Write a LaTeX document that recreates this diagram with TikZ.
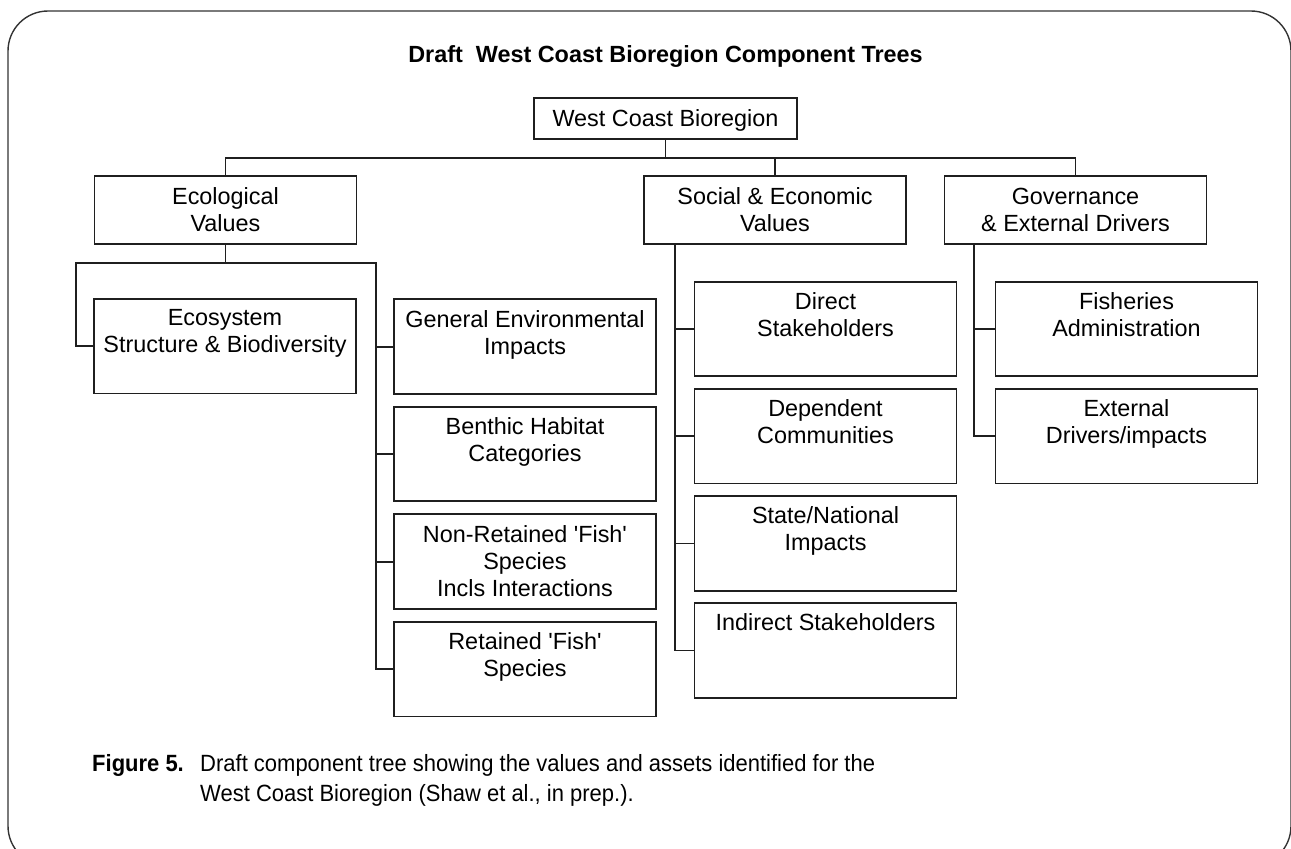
\documentclass[tikz,border=0pt]{standalone}
\usepackage{fontspec}
\setmainfont{Liberation Sans}
\newfontfamily\capfont[FakeStretch=0.936]{Liberation Sans}
\newcommand\bodyfont{\fontsize{23.4}{27}\selectfont}
\newcommand\capsize{\capfont\fontsize{23.5}{30}\selectfont}
\newcommand\sq{\textquotesingle}

\tikzset{
  conn/.style={line width=1.9pt, draw=black!88},
  box/.style={draw=black!88, line width=1.9pt, inner sep=0pt, minimum width=262pt},
  head/.style={box, minimum height=68pt, align=center, font=\bodyfont},
  leaf/.style={box, minimum height=94.5pt},
  lbl/.style={anchor=north, align=center, inner sep=0pt, font=\bodyfont},
  captext/.style={anchor=base west, inner sep=0pt, font=\capsize},
}

\begin{document}
\begin{tikzpicture}[x=1pt,y=-1pt]
\useasboundingbox (0,0) rectangle (1291,849);
\clip (0,0) rectangle (1291,849);

% outer frame
\draw[line width=1.4pt, black!80, rounded corners=40pt] (8,11) rectangle (1291,866);

% title
\node[anchor=base, inner sep=0pt, font=\bodyfont\bfseries] (title) at (665.5,62)
  {Draft\ \ West Coast Bioregion Component Trees};

% root and first level
\node[box, minimum width=263pt, minimum height=41pt, text depth=0pt, font=\bodyfont] (root) at (665.5,118.5) {West Coast Bioregion};
\node[head] (eco) at (225.5,210) {Ecological\\Values};
\node[head] (soc) at (775,210) {Social \& Economic\\Values};
\node[head] (gov) at (1075.5,210) {Governance\\\& External Drivers};

% ecological values branch
\node[leaf] (ecosys) at (225,346.2) {};
\node[leaf] (gen)    at (525,346.6) {};
\node[leaf] (ben)    at (525,454.0) {};
\node[leaf] (nonret) at (525,561.6) {};
\node[leaf] (ret)    at (525,669.2) {};

% social and economic branch
\node[leaf] (direct) at (825.5,329.0) {};
\node[leaf] (depend) at (825.5,436.2) {};
\node[leaf] (state)  at (825.5,543.5) {};
\node[leaf] (indir)  at (825.5,650.5) {};

% governance branch
\node[leaf] (fishad) at (1126.5,329.0) {};
\node[leaf] (extdr)  at (1126.5,436.2) {};

% leaf labels
\node[lbl] (ecosysT) at ([yshift=-11.5pt]ecosys.north) {Ecosystem\\Structure \& Biodiversity};
\node[lbl] (genT)    at ([yshift=-11.5pt]gen.north) {General Environmental\\Impacts};
\node[lbl] (benT)    at ([yshift=-11.5pt]ben.north) {Benthic Habitat\\Categories};
\node[lbl] (nonretT) at ([yshift=-11.5pt]nonret.north) {Non-Retained \sq Fish\sq\\Species\\Incls Interactions};
\node[lbl] (retT)    at ([yshift=-11.5pt]ret.north) {Retained \sq Fish\sq\\Species};
\node[lbl] (directT) at ([yshift=-11.5pt]direct.north) {Direct\\Stakeholders};
\node[lbl] (dependT) at ([yshift=-11.5pt]depend.north) {Dependent\\Communities};
\node[lbl] (stateT)  at ([yshift=-11.5pt]state.north) {State/National\\Impacts};
\node[lbl] (indirT)  at ([yshift=-11.5pt]indir.north) {Indirect Stakeholders};
\node[lbl] (fishadT) at ([yshift=-11.5pt]fishad.north) {Fisheries\\Administration};
\node[lbl] (extdrT)  at ([yshift=-11.5pt]extdr.north) {External\\Drivers/impacts};

% top-level connectors
\coordinate (bus) at (665.5,158);
\draw[conn] (root.south) -- (bus);
\draw[conn] (eco.north) |- (bus) -| (gov.north);
\draw[conn] (soc.north) -- (soc.north |- bus);

% ecological connectors
\coordinate (ebL) at (76,263);
\coordinate (ebR) at (376,263);
\draw[conn] (eco.south) -- (eco.south |- ebL);
\draw[conn] (ecosys.west) -| (ebL) -- (ebR) |- (ret.west);
\draw[conn] (gen.west) -- (gen.west -| ebR);
\draw[conn] (ben.west) -- (ben.west -| ebR);
\draw[conn] (nonret.west) -- (nonret.west -| ebR);

% social and economic connectors
\coordinate (sv) at ([xshift=31.7pt]soc.south west);
\draw[conn] (sv) |- (indir.west);
\draw[conn] (direct.west) -- (direct.west -| sv);
\draw[conn] (depend.west) -- (depend.west -| sv);
\draw[conn] (state.west) -- (state.west -| sv);

% governance connectors
\coordinate (gv) at ([xshift=30.7pt]gov.south west);
\draw[conn] (gv) |- (extdr.west);
\draw[conn] (fishad.west) -- (fishad.west -| gv);

% caption
\node[captext, font=\capsize\bfseries] (fig) at (92,771.7) {Figure 5.};
\node[captext] (cap1) at (200,771.7) {Draft component tree showing the values and assets identified for the};
\node[captext] (cap2) at (200,801.7) {West Coast Bioregion (Shaw et al., in prep.).};
\end{tikzpicture}
\end{document}
